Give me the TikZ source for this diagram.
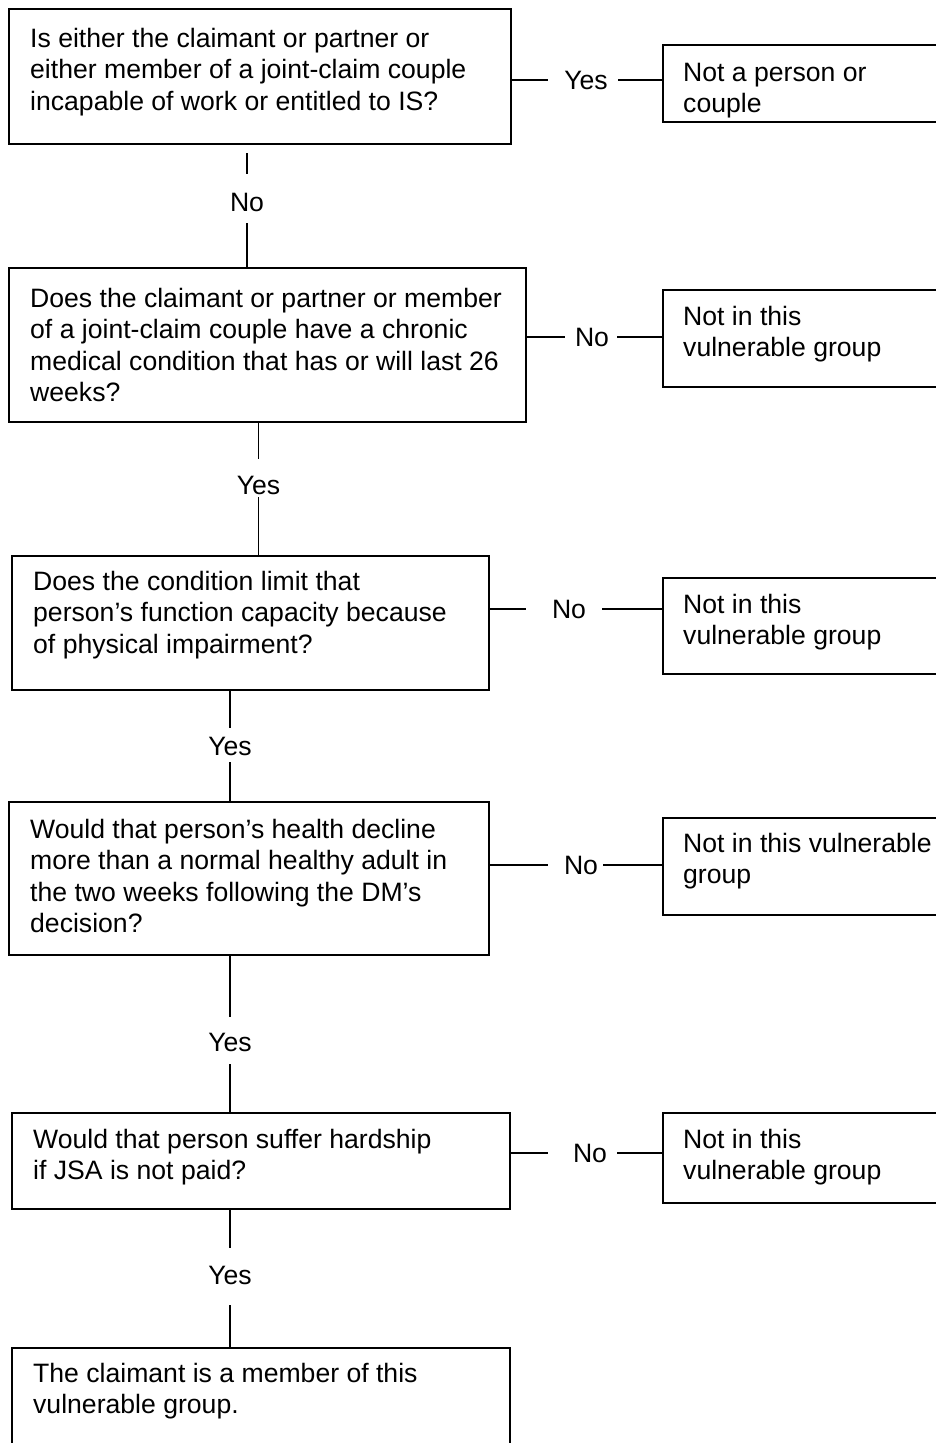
\documentclass[tikz,border=0pt]{standalone}
\usepackage{fontspec}
\setmainfont{Liberation Sans}
\begin{document}
\begin{tikzpicture}[x=1pt,y=-1pt,
  box/.style={draw, line width=1.6pt, rectangle, inner sep=0pt, anchor=north west},
  txt/.style={anchor=base west, inner sep=0pt, font=\fontsize{26.6}{31.5}\selectfont},
  lbl/.style={inner sep=0pt, font=\fontsize{26.6}{31.5}\selectfont},
  con/.style={line width=1.3pt}]
\useasboundingbox (0,0) rectangle (936,1443);
\clip (0,0) rectangle (936,1443);
% question boxes
\node[box, minimum width=502pt, minimum height=135pt] (q1) at (8,8) {};
\node[box, minimum width=517pt, minimum height=154pt] (q2) at (8,267) {};
\node[box, minimum width=477pt, minimum height=134pt] (q3) at (11,555) {};
\node[box, minimum width=480pt, minimum height=153pt] (q4) at (8,801) {};
\node[box, minimum width=498pt, minimum height=96pt] (q5) at (11,1112) {};
\node[box, minimum width=498pt, minimum height=130pt] (q6) at (11,1347) {};
% result boxes
\node[box, minimum width=320pt, minimum height=77pt] (r1) at (662,44) {};
\node[box, minimum width=320pt, minimum height=97pt] (r2) at (662,289) {};
\node[box, minimum width=320pt, minimum height=96pt] (r3) at (662,577) {};
\node[box, minimum width=320pt, minimum height=97pt] (r4) at (662,817) {};
\node[box, minimum width=320pt, minimum height=90pt] (r5) at (662,1112) {};
% texts
\node[txt] (t1) at (30,47) {\parbox[t]{480pt}{\raggedright Is either the claimant or partner or\\either member of a joint-claim couple\\incapable of work or entitled to IS?}};
\node[txt] (t2) at (30,307) {\parbox[t]{495pt}{\raggedright Does the claimant or partner or member\\of a joint-claim couple have a chronic\\medical condition that has or will last 26\\weeks?}};
\node[txt] (t3) at (33,590) {\parbox[t]{455pt}{\raggedright Does the condition limit that\\person’s function capacity because\\of physical impairment?}};
\node[txt] (t4) at (30,838) {\parbox[t]{455pt}{\raggedright Would that person’s health decline\\more than a normal healthy adult in\\the two weeks following the DM’s\\decision?}};
\node[txt] (t5) at (33,1148) {\parbox[t]{470pt}{\raggedright Would that person suffer hardship\\if JSA is not paid?}};
\node[txt] (t6) at (33,1382) {\parbox[t]{470pt}{\raggedright The claimant is a member of this\\vulnerable group.}};
\node[txt] (s1) at (683,81) {\parbox[t]{300pt}{\raggedright Not a person or\\couple}};
\node[txt] (s2) at (683,325) {\parbox[t]{300pt}{\raggedright Not in this\\vulnerable group}};
\node[txt] (s3) at (683,613) {\parbox[t]{300pt}{\raggedright Not in this\\vulnerable group}};
\node[txt] (s4) at (683,852) {\parbox[t]{300pt}{\raggedright Not in this vulnerable\\group}};
\node[txt] (s5) at (683,1148) {\parbox[t]{300pt}{\raggedright Not in this\\vulnerable group}};
% horizontal connectors
\coordinate (h1a) at (548,80);  \coordinate (h1b) at (618,80);
\node[lbl] (y1) at (586,80) {Yes};
\draw[con] (q1.east |- h1a) -- (h1a);
\draw[con] (h1b) -- (r1.west |- h1b);
\coordinate (h2a) at (565,337); \coordinate (h2b) at (617,337);
\node[lbl] (n2) at (592,337) {No};
\draw[con] (q2.east |- h2a) -- (h2a);
\draw[con] (h2b) -- (r2.west |- h2b);
\coordinate (h3a) at (526,609); \coordinate (h3b) at (602,609);
\node[lbl] (n3) at (569,609) {No};
\draw[con] (q3.east |- h3a) -- (h3a);
\draw[con] (h3b) -- (r3.west |- h3b);
\coordinate (h4a) at (548,865); \coordinate (h4b) at (603,865);
\node[lbl] (n4) at (581,865) {No};
\draw[con] (q4.east |- h4a) -- (h4a);
\draw[con] (h4b) -- (r4.west |- h4b);
\coordinate (h5a) at (548,1153); \coordinate (h5b) at (617,1153);
\node[lbl] (n5) at (590,1153) {No};
\draw[con] (q5.east |- h5a) -- (h5a);
\draw[con] (h5b) -- (r5.west |- h5b);
% vertical connectors
\coordinate (v1s) at (247,153); \coordinate (v1a) at (247,174); \coordinate (v1b) at (247,223);
\node[lbl] (nv1) at (247,202) {No};
\draw[con] (v1s) -- (v1a);
\draw[con] (v1b) -- (q2.north -| v1b);
\coordinate (v2a) at (258.5,459); \coordinate (v2b) at (258.5,497);
\node[lbl] (yv2) at (258.5,485) {Yes};
\draw[con] (q2.south -| v2a) -- (v2a);
\draw[con] (v2b) -- (q3.north -| v2b);
\coordinate (v3a) at (230,728); \coordinate (v3b) at (230,762);
\node[lbl] (yv3) at (230,746) {Yes};
\draw[con] (q3.south -| v3a) -- (v3a);
\draw[con] (v3b) -- (q4.north -| v3b);
\coordinate (v4a) at (230,1017); \coordinate (v4b) at (230,1064);
\node[lbl] (yv4) at (230,1042) {Yes};
\draw[con] (q4.south -| v4a) -- (v4a);
\draw[con] (v4b) -- (q5.north -| v4b);
\coordinate (v5a) at (230,1248); \coordinate (v5b) at (230,1305);
\node[lbl] (yv5) at (230,1275) {Yes};
\draw[con] (q5.south -| v5a) -- (v5a);
\draw[con] (v5b) -- (q6.north -| v5b);
\end{tikzpicture}
\end{document}
